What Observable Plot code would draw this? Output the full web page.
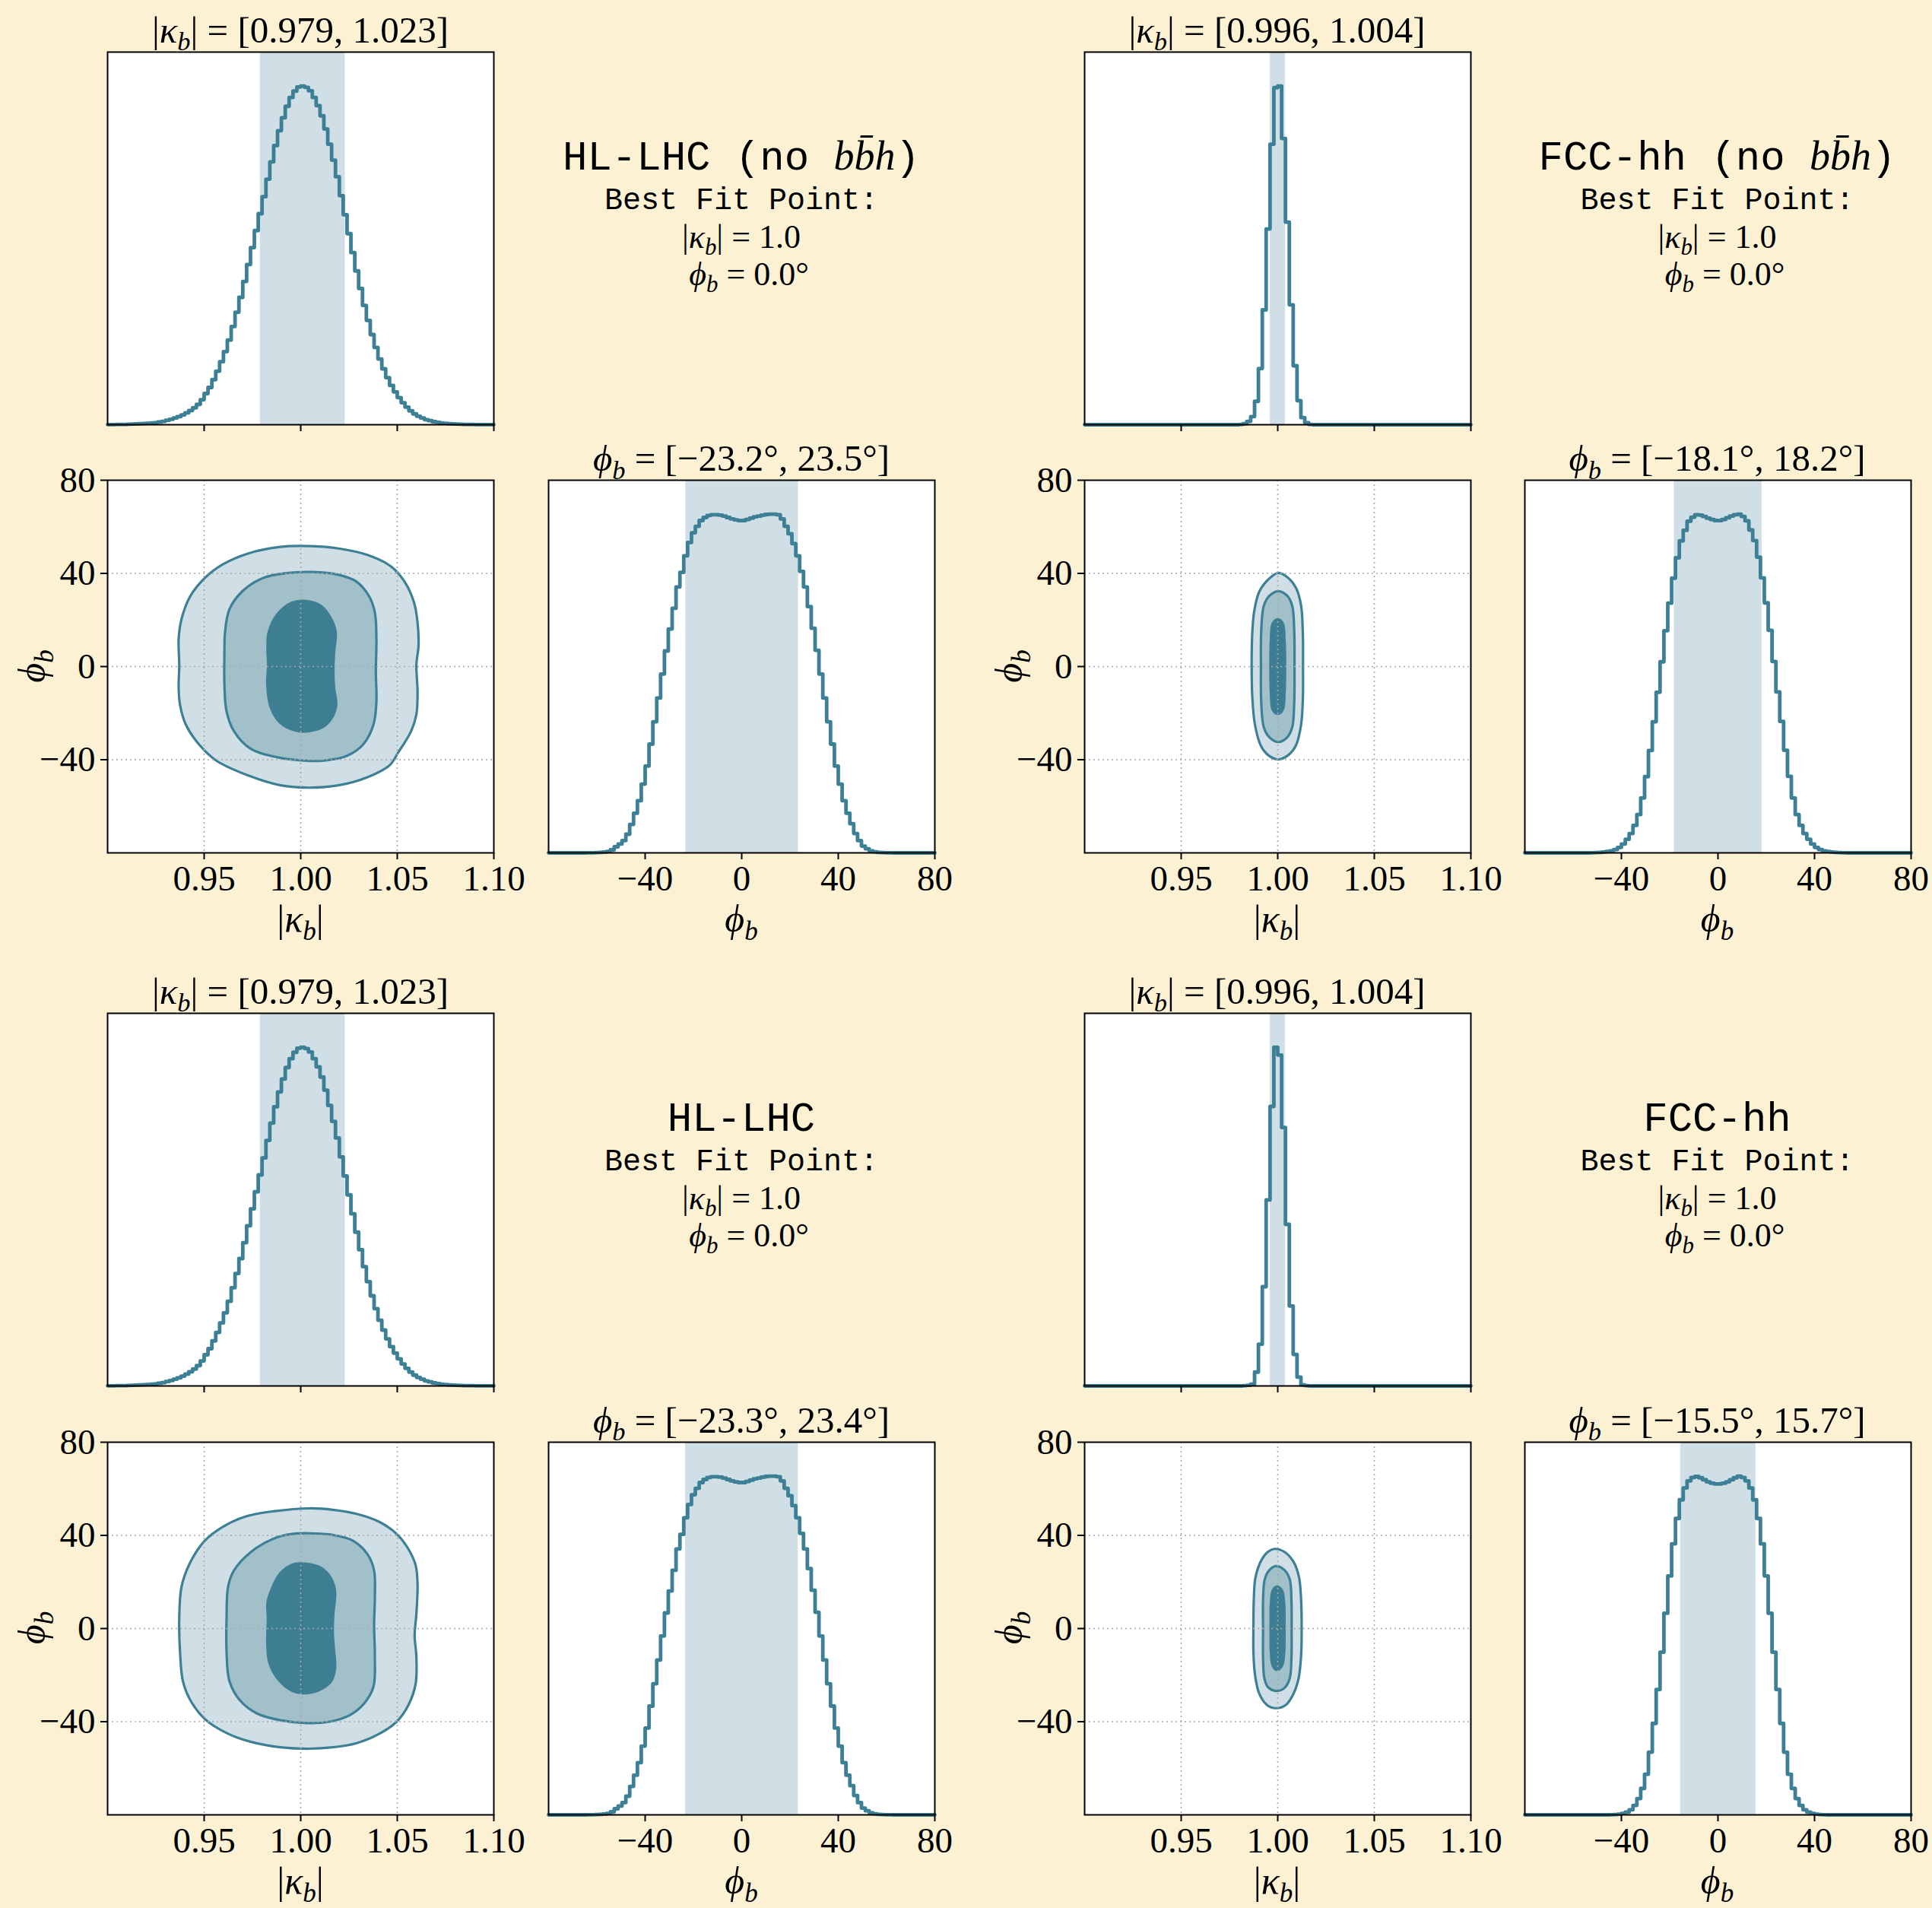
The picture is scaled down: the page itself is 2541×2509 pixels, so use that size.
<!DOCTYPE html>
<html>
<head>
<meta charset="utf-8">
<script src="https://cdn.jsdelivr.net/npm/d3@7"></script>
<script src="https://cdn.jsdelivr.net/npm/@observablehq/plot@0.6"></script>
<style>
html,body{margin:0;padding:0;background:#fcf2d3;}
#fig{position:relative;width:2541px;height:2509px;overflow:hidden;background:#fcf2d3;}
.panel{position:absolute;}
.panel svg{max-width:none;display:block;}
#overlay{position:absolute;left:0;top:0;pointer-events:none;white-space:pre;}
</style>
</head>
<body>
<div id="fig"></div>
<script>
// ---------------- DATA ----------------
// histogram bins: |kappa_b| from 0.9 in steps of 0.002 (100 bins); phi_b from -80 in steps of 1.6 (100 bins)
const kappaBinStart = 0.9, kappaBinWidth = 0.002;
const phiBinStart = -80, phiBinWidth = 1.6;

// relative heights (peak = 100)
const hlNoBbhKappa = [
  0.05,0.05,0.1,0.1,0.1,0.15,0.2,0.25,0.3,0.35,
  0.4,0.5,0.6,0.8,1.0,1.3,1.6,2.0,2.4,2.9,
  3.5,4.2,5.0,6.0,7.4,9.2,11.0,13.3,15.8,18.6,
  21.6,25.0,29.0,33.2,37.6,42.3,47.3,52.3,57.3,62.3,
  67.3,72.5,77.6,82.4,86.8,90.6,94.0,96.6,98.5,99.7,
  100,99.6,98.6,96.6,94.2,91.2,87.3,82.8,78.1,73.2,
  67.6,62.0,56.4,50.8,45.4,40.2,35.2,30.8,26.6,22.8,
  19.4,16.5,13.9,11.6,9.7,8.0,6.5,5.2,4.1,3.2,
  2.5,2.0,1.5,1.2,0.9,0.7,0.5,0.4,0.3,0.25,
  0.2,0.15,0.1,0.1,0.1,0.05,0.05,0.05,0.05,0.05];
const hlNoBbhPhi = [
  0,0,0,0,0,0,0,0,0,0,
  0.02,0.05,0.08,0.15,0.25,0.4,0.9,1.8,2.6,3.6,
  5.5,8.4,11.7,15.4,20.3,25.6,32.1,38.7,45.7,52.8,
  59.6,66.1,72.2,78.5,82.8,87.7,91.6,94.5,96.4,98.1,
  99.0,99.6,99.8,99.8,99.7,99.4,99.0,98.6,98.3,98.1,
  98.1,98.4,98.8,99.2,99.4,99.7,99.9,100,100,99.8,
  98.6,96.4,94.2,91.3,87.7,83.1,78.5,72.7,66.3,59.8,
  52.8,45.7,38.7,32.1,25.6,20.3,15.4,11.7,8.6,5.7,
  3.6,2.0,1.2,0.6,0.3,0.15,0.08,0.04,0.02,0,
  0,0,0,0,0,0,0,0,0,0];
const fccNoBbhKappa = [
  0,0,0,0,0,0,0,0,0,0, 0,0,0,0,0,0,0,0,0,0,
  0,0,0,0,0,0,0,0,0,0, 0,0,0,0,0,0,0,0,0,0,
  0.1,0.3,1.0,2.4,6.9,16.6,33.9,57.8,82.8,99.5,
  100,84.5,59.8,35.4,17.4,7.1,2.1,0.6,0.1,0,
  0,0,0,0,0,0,0,0,0,0, 0,0,0,0,0,0,0,0,0,0,
  0,0,0,0,0,0,0,0,0,0, 0,0,0,0,0,0,0,0,0,0];
const fccNoBbhPhi = [
  0,0,0,0,0,0,0,0,0,0,
  0,0,0,0,0,0,0,0.05,0.1,0.15,
  0.25,0.4,0.6,1.0,1.6,2.6,4.0,5.7,8.1,11.3,
  16.2,22.5,30.2,38.7,47.4,56.4,65.6,73.7,81.1,87.1,
  92.1,95.2,97.9,99.1,99.8,99.7,99.3,98.8,98.4,98.1,
  98.1,98.4,98.9,99.4,99.8,100,99.3,98.0,95.3,92.2,
  87.3,81.2,73.8,65.7,56.5,47.5,38.8,30.3,22.6,16.2,
  11.3,8.1,5.7,4.0,2.6,1.6,1.0,0.6,0.4,0.25,
  0.15,0.1,0.05,0,0,0,0,0,0,0,
  0,0,0,0,0,0,0,0,0,0];
const hlKappa = [
  0.05,0.05,0.1,0.1,0.1,0.15,0.2,0.25,0.3,0.35,
  0.4,0.5,0.6,0.8,1.0,1.3,1.6,2.0,2.4,2.9,
  3.5,4.2,5.0,6.0,7.4,9.2,11.0,13.3,15.8,18.6,
  21.6,25.0,29.0,33.2,37.6,42.3,47.3,52.3,57.3,62.3,
  67.3,72.5,77.6,82.4,86.8,90.6,94.0,96.6,98.5,99.7,
  100,99.6,98.6,96.6,94.2,91.2,87.3,82.8,78.1,73.2,
  67.6,62.0,56.4,50.8,45.4,40.2,35.2,30.8,26.6,22.8,
  19.4,16.5,13.9,11.6,9.7,8.0,6.5,5.2,4.1,3.2,
  2.5,2.0,1.5,1.2,0.9,0.7,0.5,0.4,0.3,0.25,
  0.2,0.15,0.1,0.1,0.1,0.05,0.05,0.05,0.05,0.05];
const hlPhi = [
  0,0,0,0,0,0,0,0,0,0,
  0.02,0.05,0.08,0.15,0.25,0.4,0.9,1.8,2.6,3.6,
  5.5,8.4,11.7,15.4,20.3,25.6,32.1,38.7,45.7,52.8,
  59.6,66.1,72.2,78.5,82.8,87.7,91.6,94.5,96.4,98.1,
  99.0,99.6,99.8,99.8,99.7,99.4,99.0,98.6,98.3,98.1,
  98.1,98.4,98.8,99.2,99.4,99.7,99.9,100,100,99.8,
  98.6,96.4,94.2,91.3,87.7,83.1,78.5,72.7,66.3,59.8,
  52.8,45.7,38.7,32.1,25.6,20.3,15.4,11.7,8.6,5.7,
  3.6,2.0,1.2,0.6,0.3,0.15,0.08,0.04,0.02,0,
  0,0,0,0,0,0,0,0,0,0];
const fccKappa = [
  0,0,0,0,0,0,0,0,0,0, 0,0,0,0,0,0,0,0,0,0,
  0,0,0,0,0,0,0,0,0,0, 0,0,0,0,0,0,0,0,0,0,
  0,0.1,0.2,0.5,4.1,12.3,29.3,54.9,82.5,100,
  97.7,76.3,47.7,23.6,9.3,2.6,0.3,0.1,0,0,
  0,0,0,0,0,0,0,0,0,0, 0,0,0,0,0,0,0,0,0,0,
  0,0,0,0,0,0,0,0,0,0, 0,0,0,0,0,0,0,0,0,0];
const fccPhi = [
  0,0,0,0,0,0,0,0,0,0,
  0,0,0,0,0,0,0,0,0,0,
  0,0,0.05,0.1,0.2,0.4,0.8,1.5,2.8,4.8,
  7.8,12.0,18.5,27.0,37.0,48.0,59.5,70.5,80.0,87.5,
  93.0,96.5,98.6,99.6,99.9,99.5,98.9,98.3,97.9,97.7,
  97.7,97.9,98.3,98.9,99.5,100,99.6,98.6,96.5,93.0,
  87.5,80.0,70.5,59.5,48.0,37.0,27.0,18.5,12.0,7.8,
  4.8,2.8,1.5,0.8,0.4,0.2,0.1,0.05,0,0,
  0,0,0,0,0,0,0,0,0,0,
  0,0,0,0,0,0,0,0,0,0];

// credible intervals
const hlNoBbhKappaCI = [0.979, 1.023], hlNoBbhPhiCI = [-23.2, 23.5];
const fccNoBbhKappaCI = [0.996, 1.004], fccNoBbhPhiCI = [-18.1, 18.2];
const hlKappaCI = [0.979, 1.023], hlPhiCI = [-23.3, 23.4];
const fccKappaCI = [0.996, 1.004], fccPhiCI = [-15.5, 15.7];

// 2D credible-region contours, [|kappa_b|, phi_b]
const hlNoBbhOuter = [[1.0053,51.7],[1.0196,50.7],[1.0346,47.9],[1.0467,43.0],[1.0542,35.9],[1.0587,27.4],[1.0605,18.9],[1.0610,9.0],[1.0599,0.6],[1.0605,-10.7],[1.0599,-20.6],[1.0572,-27.7],[1.0505,-36.9],[1.0459,-42.5],[1.0346,-47.5],[1.0196,-51.0],[1.0045,-52.0],[0.9895,-51.0],[0.9729,-46.8],[0.9563,-40.4],[0.9473,-33.4],[0.9405,-24.9],[0.9375,-16.4],[0.9368,-9.3],[0.9371,0.6],[0.9368,11.9],[0.9383,20.4],[0.9428,30.2],[0.9503,38.0],[0.9593,43.7],[0.9729,48.6],[0.9895,51.4]];
const hlNoBbhMiddle = [[1.0060,40.6],[1.0196,39.4],[1.0286,36.6],[1.0354,30.2],[1.0384,23.2],[1.0392,11.9],[1.0389,-2.3],[1.0392,-15.0],[1.0377,-24.9],[1.0324,-33.4],[1.0241,-38.3],[1.0121,-40.4],[1.0015,-40.4],[0.9880,-39.0],[0.9744,-35.5],[0.9654,-27.7],[0.9616,-19.2],[0.9605,-7.9],[0.9605,6.2],[0.9608,14.7],[0.9631,24.6],[0.9699,32.4],[0.9804,38.0],[0.9925,40.1]];
const hlNoBbhInner = [[1.0030,28.1],[1.0105,26.0],[1.0158,20.4],[1.0181,14.7],[1.0173,6.2],[1.0169,-2.3],[1.0173,-9.3],[1.0184,-16.4],[1.0166,-21.3],[1.0121,-25.6],[1.0045,-27.7],[0.9970,-27.4],[0.9895,-24.2],[0.9846,-17.8],[0.9827,-7.9],[0.9831,0.6],[0.9828,9.0],[0.9834,14.7],[0.9880,22.5],[0.9955,27.4]];
const fccNoBbhOuter = [[1.0003,40.2],[1.0055,38.0],[1.0095,33.7],[1.0121,26.1],[1.0130,14.1],[1.0131,0],[1.0130,-14.2],[1.0121,-25.0],[1.0095,-33.7],[1.0055,-38.0],[1.0003,-39.9],[0.9950,-38.0],[0.9911,-33.7],[0.9882,-25.0],[0.9869,-14.2],[0.9865,0],[0.9868,14.1],[0.9878,23.7],[0.9904,32.1],[0.9950,37.3]];
const fccNoBbhMiddle = [[1.0003,32.4],[1.0049,30.4],[1.0075,26.1],[1.0085,16.3],[1.0087,0],[1.0085,-16.3],[1.0075,-26.1],[1.0049,-30.4],[1.0003,-32.4],[0.9957,-30.4],[0.9928,-26.1],[0.9915,-16.3],[0.9913,0],[0.9915,16.3],[0.9928,26.1],[0.9957,30.4]];
const fccNoBbhInner = [[1.0000,20.3],[1.0026,18.5],[1.0035,11.9],[1.0038,0],[1.0035,-11.9],[1.0026,-18.5],[1.0000,-20.3],[0.9974,-18.5],[0.9965,-11.9],[0.9962,0],[0.9965,11.9],[0.9974,18.5]];
const hlOuter = [[1.0045,51.6],[1.0166,51.0],[1.0286,49.3],[1.0407,45.8],[1.0497,40.6],[1.0557,34.2],[1.0595,27.2],[1.0605,19.1],[1.0599,6.4],[1.0590,-2.9],[1.0599,-12.2],[1.0595,-23.8],[1.0557,-33.0],[1.0497,-40.0],[1.0407,-45.2],[1.0286,-49.3],[1.0166,-51.0],[1.0045,-51.6],[0.9895,-51.0],[0.9744,-48.7],[0.9624,-45.2],[0.9503,-38.8],[0.9428,-30.7],[0.9390,-22.6],[0.9375,-9.9],[0.9371,4.1],[0.9383,18.0],[0.9428,28.4],[0.9503,37.7],[0.9593,43.5],[0.9714,48.1],[0.9865,50.4]];
const hlMiddle = [[1.0045,40.9],[1.0166,40.2],[1.0271,37.7],[1.0346,31.9],[1.0380,24.9],[1.0384,13.3],[1.0380,1.7],[1.0384,-12.2],[1.0377,-24.9],[1.0331,-31.9],[1.0256,-37.1],[1.0151,-40.0],[1.0030,-40.6],[0.9895,-39.4],[0.9774,-36.5],[0.9684,-30.7],[0.9631,-22.6],[0.9616,-9.9],[0.9616,4.1],[0.9624,18.0],[0.9654,24.9],[0.9744,33.0],[0.9865,38.8],[0.9955,40.6]];
const hlInner = [[1.0030,27.8],[1.0105,26.1],[1.0158,21.4],[1.0178,15.7],[1.0169,6.4],[1.0166,-1.7],[1.0173,-9.9],[1.0178,-16.8],[1.0158,-22.6],[1.0105,-26.1],[1.0030,-27.8],[0.9955,-26.7],[0.9880,-21.4],[0.9837,-14.5],[0.9827,-5.2],[0.9830,4.1],[0.9828,11.0],[0.9849,16.8],[0.9895,23.8],[0.9962,27.6]];
const fccOuter = [[0.9983,34.2],[1.0035,32.9],[1.0082,28.6],[1.0110,22.1],[1.0121,12.3],[1.0124,0],[1.0121,-11.6],[1.0108,-21.4],[1.0082,-27.9],[1.0042,-32.8],[0.9990,-34.2],[0.9944,-32.8],[0.9904,-27.9],[0.9882,-19.7],[0.9874,-10.0],[0.9874,0],[0.9876,12.3],[0.9885,22.1],[0.9917,29.6],[0.9950,33.0]];
const fccMiddle = [[0.9992,26.8],[1.0035,25.1],[1.0062,21.2],[1.0071,12.3],[1.0072,0],[1.0071,-12.7],[1.0062,-21.4],[1.0035,-25.5],[0.9992,-26.8],[0.9950,-25.2],[0.9931,-21.4],[0.9924,-12.7],[0.9924,0],[0.9924,12.3],[0.9933,21.2],[0.9957,25.1]];
const fccInner = [[0.9996,18.0],[1.0022,16.3],[1.0033,11.2],[1.0035,0],[1.0033,-10.5],[1.0022,-16.0],[0.9996,-17.8],[0.9974,-16.0],[0.9965,-10.5],[0.9963,0],[0.9965,11.2],[0.9974,16.3]];

// axis ticks
const kappaTicks = [0.95, 1.00, 1.05, 1.10];
const phiTicks = [-40, 0, 40, 80];
const phiYTicks = [80, 40, 0, -40];
const kappaGrid = [0.95, 1.00, 1.05];
const phiGrid = [-40, 0, 40];

// scenario text
const scenarios = [
  {name: "HL-LHC", extra: true, col: 1, row: 0},
  {name: "FCC-hh", extra: true, col: 3, row: 0},
  {name: "HL-LHC", extra: false, col: 1, row: 2},
  {name: "FCC-hh", extra: false, col: 3, row: 2}
];
const bestFitKappa = "1.0", bestFitPhi = "0.0°";

// ---------------- STYLE / LAYOUT ----------------
const SERIF = '"Liberation Serif", "DejaVu Serif", serif';
const MONO = '"Liberation Mono", "DejaVu Sans Mono", monospace';
const LINE = "#3d8096", DARK = "#3e7e92", MID = "#a1c0ca", LIGHT = "#d0dfe5";
const colX = [141, 721, 1425.5, 2004.5];
const rowY = [67.5, 631, 1331.5, 1895.5];
const PW = 508, PH = 490;
const ML = 140, MR = 70, MT = 20, MB = 90;
const fig = document.getElementById("fig");

const fmtK = d3.format(".2f");
const fmtP = d => d < 0 ? "\u2212" + Math.abs(d) : String(d);
const axisOpts = {tickSize: 9, tickPadding: 7, fontSize: 47, fontFamily: SERIF, strokeWidth: 2, label: null};

function place(svg, col, row) {
  const div = document.createElement("div");
  div.className = "panel";
  div.style.left = (colX[col] - ML) + "px";
  div.style.top = (rowY[row] - MT) + "px";
  div.appendChild(svg);
  fig.appendChild(div);
}
function baseOpts() {
  return {width: PW + ML + MR, height: PH + MT + MB,
    marginLeft: ML, marginRight: MR, marginTop: MT, marginBottom: MB,
    style: {background: "transparent", fontFamily: SERIF, overflow: "visible"}};
}
function histPanel(values, start, width, ci, domain, ticks, fmt) {
  const pts = values.map((v, i) => ({x: start + width * i, y: v}));
  pts.push({x: start + width * values.length, y: values[values.length - 1]});
  return Plot.plot({...baseOpts(),
    x: {domain}, y: {domain: [0, 110], axis: null},
    marks: [
      Plot.frame({fill: "white", stroke: "none"}),
      Plot.rect([ci], {x1: d => d[0], x2: d => d[1], y1: 0, y2: 110, fill: LIGHT}),
      Plot.line(pts, {x: d => d.x, y: d => d.y, curve: "step-after", stroke: LINE, strokeWidth: 4.8}),
      Plot.axisX({...axisOpts, ticks, tickFormat: fmt}),
      Plot.frame({stroke: "black", strokeWidth: 2})
    ]});
}
function contourPanel(outer, middle, inner) {
  const c = (data, fill, stroke) => Plot.line(data, {x: d => d[0], y: d => d[1], curve: "catmull-rom-closed", fill, stroke, strokeWidth: 3.2});
  return Plot.plot({...baseOpts(),
    x: {domain: [0.9, 1.1]}, y: {domain: [-80, 80]},
    marks: [
      Plot.frame({fill: "white", stroke: "none"}),
      c(outer, LIGHT, LINE), c(middle, MID, LINE), c(inner, DARK, DARK),
      Plot.gridX({ticks: kappaGrid, stroke: "#a8a8a8", strokeOpacity: 1, strokeWidth: 1.6, strokeDasharray: "2,4"}),
      Plot.gridY({ticks: phiGrid, stroke: "#a8a8a8", strokeOpacity: 1, strokeWidth: 1.6, strokeDasharray: "2,4"}),
      Plot.axisX({...axisOpts, ticks: kappaTicks, tickFormat: fmtK}),
      Plot.axisY({...axisOpts, ticks: phiYTicks, tickFormat: fmtP}),
      Plot.frame({stroke: "black", strokeWidth: 2})
    ]});
}
const blank = () => "";
// block 1: HL-LHC (no bbh)
place(histPanel(hlNoBbhKappa, kappaBinStart, kappaBinWidth, hlNoBbhKappaCI, [0.9, 1.1], kappaTicks, blank), 0, 0);
place(contourPanel(hlNoBbhOuter, hlNoBbhMiddle, hlNoBbhInner), 0, 1);
place(histPanel(hlNoBbhPhi, phiBinStart, phiBinWidth, hlNoBbhPhiCI, [-80, 80], phiTicks, fmtP), 1, 1);
// block 2: FCC-hh (no bbh)
place(histPanel(fccNoBbhKappa, kappaBinStart, kappaBinWidth, fccNoBbhKappaCI, [0.9, 1.1], kappaTicks, blank), 2, 0);
place(contourPanel(fccNoBbhOuter, fccNoBbhMiddle, fccNoBbhInner), 2, 1);
place(histPanel(fccNoBbhPhi, phiBinStart, phiBinWidth, fccNoBbhPhiCI, [-80, 80], phiTicks, fmtP), 3, 1);
// block 3: HL-LHC
place(histPanel(hlKappa, kappaBinStart, kappaBinWidth, hlKappaCI, [0.9, 1.1], kappaTicks, blank), 0, 2);
place(contourPanel(hlOuter, hlMiddle, hlInner), 0, 3);
place(histPanel(hlPhi, phiBinStart, phiBinWidth, hlPhiCI, [-80, 80], phiTicks, fmtP), 1, 3);
// block 4: FCC-hh
place(histPanel(fccKappa, kappaBinStart, kappaBinWidth, fccKappaCI, [0.9, 1.1], kappaTicks, blank), 2, 2);
place(contourPanel(fccOuter, fccMiddle, fccInner), 2, 3);
place(histPanel(fccPhi, phiBinStart, phiBinWidth, fccPhiCI, [-80, 80], phiTicks, fmtP), 3, 3);

// ---------------- TEXT OVERLAY ----------------
const ov = d3.create("svg").attr("id", "overlay").attr("width", 2541).attr("height", 2509);
function mtext(x, y, parts, size, rotate) {
  const t = ov.append("text").attr("x", x).attr("y", y).attr("text-anchor", "middle")
    .attr("font-family", SERIF).attr("font-size", size).attr("fill", "#000");
  if (rotate) t.attr("transform", `rotate(-90,${x},${y})`);
  let shift = 0;
  for (const [s, st] of parts) {
    const ts = t.append("tspan").text(s);
    const want = st === "s" ? size * 0.22 : 0;
    if (want !== shift) { ts.attr("dy", want - shift); shift = want; }
    if (st === "i" || st === "s") ts.attr("font-style", "italic");
    if (st === "s") ts.attr("font-size", size * 0.7);
    if (st === "t") ts.attr("font-family", MONO);
  }
}
const KB = [["|", "r"], ["\u03BA", "i"], ["b", "s"], ["|", "r"]];
const PB = [["\u03D5", "i"], ["b", "s"]];
function kTitle(ci) { return [...KB, [` = [${ci[0].toFixed(3)}, ${ci[1].toFixed(3)}]`, "r"]]; }
function pTitle(ci) { const f = v => (v < 0 ? "\u2212" : "") + Math.abs(v).toFixed(1) + "°"; return [...PB, [` = [${f(ci[0])}, ${f(ci[1])}]`, "r"]]; }
const cx = c => colX[c] + PW / 2;

// panel titles
[[hlNoBbhKappaCI, 0, 0], [fccNoBbhKappaCI, 2, 0], [hlKappaCI, 0, 2], [fccKappaCI, 2, 2]].forEach(([ci, c, r]) => mtext(cx(c), rowY[r] - 12, kTitle(ci), 49));
[[hlNoBbhPhiCI, 1, 1], [fccNoBbhPhiCI, 3, 1], [hlPhiCI, 1, 3], [fccPhiCI, 3, 3]].forEach(([ci, c, r]) => mtext(cx(c), rowY[r] - 12, pTitle(ci), 49));
// axis labels
[1, 3].forEach(r => {
  const yb = rowY[r] + PH + 104;
  mtext(cx(0), yb, KB, 50);
  mtext(cx(2), yb, KB, 50);
  mtext(cx(1), yb, PB, 50);
  mtext(cx(3), yb, PB, 50);
  mtext(colX[0] - 82, rowY[r] + PH / 2, PB, 50, true);
  mtext(colX[2] - 82, rowY[r] + PH / 2, PB, 50, true);
});
// scenario info
scenarios.forEach(s => {
  const x = cx(s.col), y0 = rowY[s.row];
  const title = s.extra ? [[s.name + " (no ", "t"], ["bb\u0304h", "i"], [")", "t"]] : [[s.name, "t"]];
  mtext(x, y0 + 155, title, 54);
  mtext(x, y0 + 207, [["Best Fit Point:", "t"]], 40);
  mtext(x, y0 + 258, [...KB, [" = " + bestFitKappa, "r"]], 44);
  mtext(x + 10, y0 + 307, [...PB, [" = " + bestFitPhi, "r"]], 44);
});
fig.appendChild(ov.node());
</script>
</body>
</html>
